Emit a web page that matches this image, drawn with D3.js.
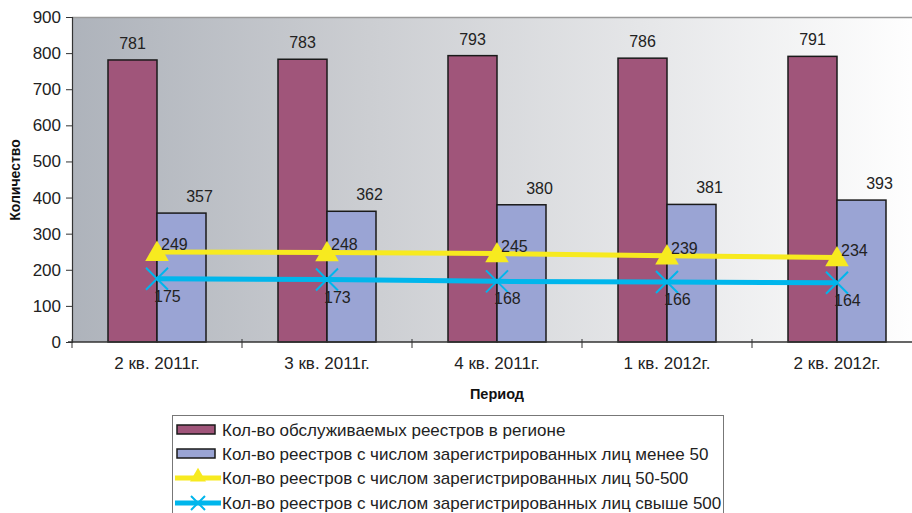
<!DOCTYPE html>
<html><head><meta charset="utf-8">
<script src="https://cdn.jsdelivr.net/npm/d3@7"></script>
<style>body{margin:0;background:#fff}svg{display:block;font-family:Arial,"Liberation Sans",sans-serif}</style>
</head><body><svg id="c" width="912" height="513"></svg>
<script>
const categories = ["2 кв. 2011г.","3 кв. 2011г.","4 кв. 2011г.","1 кв. 2012г.","2 кв. 2012г."];
const served = [781,783,793,786,791];
const under50 = [357,362,380,381,393];
const from50to500 = [249,248,245,239,234];
const over500 = [175,173,168,166,164];
const yTicks = [0,100,200,300,400,500,600,700,800,900];
const seriesNames = ["Кол-во обслуживаемых реестров в регионе","Кол-во реестров с числом зарегистрированных лиц менее 50","Кол-во реестров с числом зарегистрированных лиц 50-500","Кол-во реестров с числом зарегистрированных лиц свыше 500"];
const colors = {served:"#a0557a", under:"#9aa4d4", yellow:"#f7ea1f", cyan:"#00b6ec"};

const svg = d3.select("#c");
const L=72, T=17, W=850, B=342;
const x = d3.scaleBand().domain(categories).range([L,L+W]);
const y = d3.scaleLinear().domain([0,900]).range([B,T]);
const defs = svg.append("defs");
const g = defs.append("linearGradient").attr("id","bg").attr("x1","0").attr("x2","1").attr("y1","0").attr("y2","0");
g.append("stop").attr("offset","0").attr("stop-color","#aeb3bb");
g.append("stop").attr("offset","0.35").attr("stop-color","#ccced2");
g.append("stop").attr("offset","1").attr("stop-color","#ffffff");
svg.append("rect").attr("x",L).attr("y",T).attr("width",W).attr("height",B-T).attr("fill","url(#bg)");
svg.append("line").attr("x1",L).attr("x2",L+W).attr("y1",T+0.5).attr("y2",T+0.5).attr("stroke","#9a9a9a").attr("stroke-width",1.5);

const bw = 49;
const cx = c => x(c)+x.bandwidth()/2;
svg.selectAll(".b1").data(served).join("rect")
  .attr("x",(d,i)=>cx(categories[i])-bw).attr("y",d=>y(d)).attr("width",bw).attr("height",d=>B-y(d))
  .attr("fill",colors.served).attr("stroke","#1a1a1a").attr("stroke-width",1.5);
svg.selectAll(".b2").data(under50).join("rect")
  .attr("x",(d,i)=>cx(categories[i])).attr("y",d=>y(d)).attr("width",bw).attr("height",d=>B-y(d))
  .attr("fill",colors.under).attr("stroke","#1a1a1a").attr("stroke-width",1.5);

// axes
const ya = svg.append("g").attr("transform",`translate(${L},0)`).call(d3.axisLeft(y).tickValues(yTicks).tickSize(6).tickPadding(5));
ya.select(".domain").attr("stroke","#333").attr("stroke-width",1.2);
ya.selectAll("line").attr("stroke","#333");
ya.selectAll("text").attr("font-size",17).attr("fill","#222");
const xa = svg.append("g").attr("transform",`translate(0,${B})`);
xa.append("line").attr("x1",L-4).attr("x2",L+W).attr("y1",0).attr("y2",0).attr("stroke","#333").attr("stroke-width",1.5);
const bounds = categories.map(c=>x(c));
xa.selectAll(".tk").data(bounds).join("line").attr("x1",d=>d).attr("x2",d=>d).attr("y1",-3).attr("y2",6).attr("stroke","#333");
xa.selectAll(".lb").data(categories).join("text").attr("x",d=>cx(d)).attr("y",27).attr("text-anchor","middle").attr("font-size",17).attr("fill","#222").text(d=>d);

// lines
const line = d3.line().x((d,i)=>cx(categories[i])).y(d=>y(d));
svg.append("path").datum(from50to500).attr("d",line).attr("fill","none").attr("stroke",colors.yellow).attr("stroke-width",5);
svg.append("path").datum(over500).attr("d",line).attr("fill","none").attr("stroke",colors.cyan).attr("stroke-width",5);
const tri = d3.symbol().type(d3.symbolTriangle).size(240);
svg.selectAll(".tri").data(from50to500).join("path").attr("d",tri)
  .attr("transform",(d,i)=>`translate(${cx(categories[i])},${y(d)+2})`).attr("fill",colors.yellow);
svg.selectAll(".xm").data(over500).join("path")
  .attr("d","M-11,-11L11,11M-11,11L11,-11")
  .attr("transform",(d,i)=>`translate(${cx(categories[i])},${y(d)})`).attr("stroke",colors.cyan).attr("stroke-width",2).attr("fill","none");

// labels
svg.selectAll(".l1").data(served).join("text").attr("x",(d,i)=>cx(categories[i])-bw/2).attr("y",d=>y(d)-11)
  .attr("text-anchor","middle").attr("font-size",16).attr("fill","#222").text(d=>d);
svg.selectAll(".l2").data(under50).join("text").attr("x",(d,i)=>cx(categories[i])+bw/2+18).attr("y",d=>y(d)-11)
  .attr("text-anchor","middle").attr("font-size",16).attr("fill","#222").text(d=>d);
svg.selectAll(".l3").data(from50to500).join("text").attr("x",(d,i)=>cx(categories[i])+4).attr("y",d=>y(d)-2)
  .attr("font-size",16).attr("fill","#222").text(d=>d);
svg.selectAll(".l4").data(over500).join("text").attr("x",(d,i)=>cx(categories[i])-3).attr("y",d=>y(d)+23)
  .attr("font-size",16).attr("fill","#222").text(d=>d);

// titles
svg.append("text").attr("transform","translate(20,180) rotate(-90)").attr("text-anchor","middle").attr("font-size",14).attr("font-weight","bold").attr("fill","#111").text("Количество");
svg.append("text").attr("x",497).attr("y",399).attr("text-anchor","middle").attr("font-size",14.5).attr("font-weight","bold").attr("fill","#111").text("Период");

// legend
svg.append("rect").attr("x",172.5).attr("y",415.5).attr("width",551).attr("height",110).attr("fill","#fff").attr("stroke","#777");
const ly = [430,454,478,503];
seriesNames.forEach((n,i)=>{
  const lg = svg.append("g");
  if(i<2){
    lg.append("rect").attr("x",177).attr("y",ly[i]-5).attr("width",38).attr("height",9).attr("fill",i==0?colors.served:colors.under).attr("stroke","#1a1a1a").attr("stroke-width",1.5);
  } else {
    const c = i==2?colors.yellow:colors.cyan;
    lg.append("line").attr("x1",175).attr("x2",221).attr("y1",ly[i]).attr("y2",ly[i]).attr("stroke",c).attr("stroke-width",5);
    if(i==2) lg.append("path").attr("d",d3.symbol().type(d3.symbolTriangle).size(110)).attr("transform",`translate(198,${ly[i]-1})`).attr("fill",c);
    else lg.append("path").attr("d","M-7,-7L7,7M-7,7L7,-7").attr("transform",`translate(198,${ly[i]})`).attr("stroke",c).attr("stroke-width",2);
  }
  lg.append("text").attr("x",222).attr("y",ly[i]+6).attr("font-size",17).attr("fill","#222").text(n);
});
</script></body></html>
